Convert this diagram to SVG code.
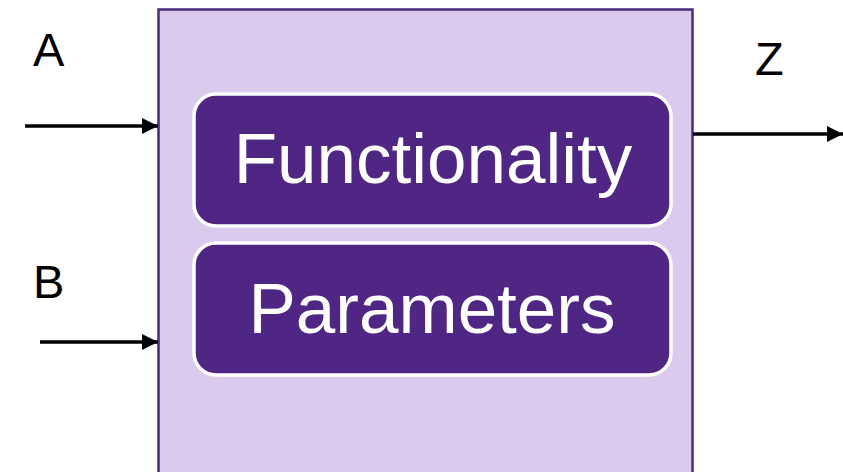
<svg xmlns="http://www.w3.org/2000/svg" width="843" height="472" viewBox="0 0 843 472">
  <style>
    .block { fill: #dacbee; stroke: #472a78; stroke-width: 2.5; }
    .inner { fill: #4f2683; stroke: #ffffff; stroke-width: 3.5; }
    .inner-label { font-family: "Liberation Sans", Arial, sans-serif; font-size: 71px; fill: #ffffff; text-anchor: middle; }
    .port-label { font-family: "Liberation Sans", Arial, sans-serif; font-size: 47px; fill: #000000; }
    .wire { stroke: #000000; stroke-width: 3.5; fill: none; marker-end: url(#head); }
  </style>
  <defs>
    <marker id="head" viewBox="0 0 10 10" refX="10" refY="5" markerWidth="4.6" markerHeight="4.6" markerUnits="strokeWidth" orient="auto">
      <path d="M0,0 L10,5 L0,10 Z" fill="#000000"/>
    </marker>
  </defs>
  <rect width="843" height="472" fill="#ffffff"/>

  <!-- outer function block -->
  <g id="block">
    <rect class="block" x="158.5" y="9.5" width="534" height="475"/>
  </g>

  <g id="functionality">
    <rect class="inner" x="194" y="94" width="477" height="132" rx="22"/>
    <text class="inner-label" x="433" y="183">Functionality</text>
  </g>

  <g id="parameters">
    <rect class="inner" x="194" y="243" width="477" height="132" rx="22"/>
    <text class="inner-label" x="432" y="333">Parameters</text>
  </g>

  <!-- inputs A, B and output Z -->
  <g id="connectors">
    <line class="wire" x1="25" y1="126" x2="158" y2="126"/>
    <line class="wire" x1="40" y1="342" x2="158" y2="342"/>
    <line class="wire" x1="693" y1="134" x2="843" y2="134"/>
  </g>

  <g id="labels">
    <text class="port-label" x="33" y="66">A</text>
    <text class="port-label" x="33" y="298">B</text>
    <text class="port-label" x="755" y="75">Z</text>
  </g>
</svg>
